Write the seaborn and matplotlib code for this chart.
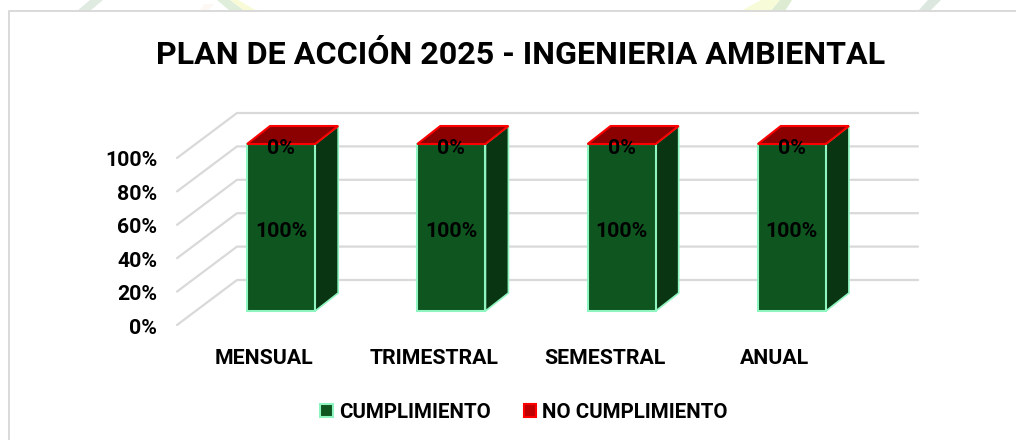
#!/usr/bin/env python3

# Import libraries
import pandas as pd
import matplotlib.pyplot as plt
import matplotlib.transforms as mtrans
from matplotlib.lines import Line2D
from matplotlib.patches import Polygon, Rectangle
import seaborn as sns

# Data
categories = ["MENSUAL", "TRIMESTRAL", "SEMESTRAL", "ANUAL"]
cumplimiento = [100, 100, 100, 100]
no_cumplimiento = [0, 0, 0, 0]
y_ticks = [0, 20, 40, 60, 80, 100]
y_labels = ["0%", "20%", "40%", "60%", "80%", "100%"]
title = "PLAN DE ACCIÓN 2025 - INGENIERIA AMBIENTAL"
series_names = ["CUMPLIMIENTO", "NO CUMPLIMIENTO"]

# Colours
GREEN = "#0e5520"
GREEN_SIDE = "#0a3512"
GREEN_EDGE = "#8ff5c0"
RED = "#c00000"
RED_TOP = "#8b0000"
RED_EDGE = "#ff0000"
GRID = "#d9d9d9"

W, H = 1016, 440
FS = 15.3


def px_box(x0, y0, x1, y1):
    ''' Figure fractions from pixel box (y from top). '''
    return [x0 / W, 1 - y1 / H, (x1 - x0) / W, (y1 - y0) / H]


def stripe(fig, pts, color):
    ''' Faint piece of the page background above the chart frame. '''
    pts = [(x / W, 1 - y / H) for x, y in pts]
    fig.add_artist(Polygon(pts, closed=True, fc=color, ec="none", transform=fig.transFigure))


sns.set_theme(style="white")
plt.rcParams["font.family"] = ["Roboto", "Liberation Sans", "DejaVu Sans"]
plt.rcParams["font.weight"] = "bold"
plt.rcParams["text.color"] = "black"
plt.rcParams["xtick.labelcolor"] = "black"
plt.rcParams["ytick.labelcolor"] = "black"

fig = plt.figure(figsize=(W / 100, H / 100), dpi=100, facecolor="white")

# background stripes showing above the frame
stripe(fig, [(77, 11), (90, 11), (103, 0), (90, 0)], "#dfeae0")
stripe(fig, [(200, 11), (208, 11), (214, 4), (204, 4)], "#fef8f5")
stripe(fig, [(217, 0), (230, 0), (245, 11), (230, 11)], "#dfeddb")
stripe(fig, [(230, 0), (238, 0), (257, 11), (245, 11)], "#f8fbd5")
stripe(fig, [(741, 11), (771, 11), (780, 0), (761, 0)], "#f7fbd8")
stripe(fig, [(771, 11), (785, 11), (792, 0), (780, 0)], "#dcebd2")
stripe(fig, [(918, 11), (930, 11), (941, 0), (928, 0)], "#dce8df")

# frame around the chart
fig.add_artist(Line2D([8.5 / W, 8.5 / W, 1], [0, 1 - 11.5 / H, 1 - 11.5 / H],
                      color="#d9d9d9", lw=1.4, transform=fig.transFigure))

# the axes is the front plane of the bars
ax = fig.add_axes(px_box(196, 144, 877, 311))
df = pd.DataFrame({"cat": categories, "val": cumplimiento})
sns.barplot(data=df, x="cat", y="val", ax=ax, width=0.4, color=GREEN,
            saturation=1, edgecolor=GREEN_EDGE, linewidth=1.5, zorder=5)
ax.set_ylim(0, 100)
ax.set_xlim(-0.5, 3.5)
ax.set_xlabel("")
ax.set_ylabel("")
sns.despine(ax=ax, left=True, bottom=True, top=True, right=True)
ax.patch.set_alpha(0)

# pixel offsets for the fake depth
to_x = 1 / (681 / 4)
to_y = 100 / 167
DEPTH = (23, 18)
BACK = (41, 31)
FRONT = (-19, -14)


def shift(x, y, off):
    return x + off[0] * to_x, y + off[1] * to_y


# grid on the back wall and floor/side wall diagonals
for t in y_ticks:
    x0, y0 = shift(-0.5, t, FRONT)
    x1, y1 = shift(-0.5, t, BACK)
    x2, y2 = shift(3.5, t, BACK)
    ax.plot([x0, x1, x2], [y0, y1, y2], color=GRID, lw=1.6, clip_on=False, zorder=1)

# bar sides and tops
for bar in ax.patches:
    x0, x1 = bar.get_x(), bar.get_x() + bar.get_width()
    h = bar.get_height()
    side = [(x1, 0), shift(x1, 0, DEPTH), shift(x1, h, DEPTH), (x1, h)]
    top = [(x0, h), (x1, h), shift(x1, h, DEPTH), shift(x0, h, DEPTH)]
    ax.add_patch(Polygon(side, closed=True, fc=GREEN_SIDE, ec=GREEN_EDGE, lw=1.2,
                         clip_on=False, zorder=4))
    ax.add_patch(Polygon(top, closed=True, fc=RED_TOP, ec=RED_EDGE, lw=1.5,
                         clip_on=False, zorder=6))
    bar.set_clip_on(False)

# value labels
for i, (a, b) in enumerate(zip(cumplimiento, no_cumplimiento)):
    ax.annotate("{}%".format(a), (i, a / 2), xytext=(0, -4), textcoords="offset pixels",
                ha="center", va="center", fontsize=FS, color="black", zorder=8,
                annotation_clip=False)
    ax.annotate("{}%".format(b), (i, a), xytext=(0, -4), textcoords="offset pixels",
                ha="center", va="center", fontsize=FS, color="black", zorder=8,
                annotation_clip=False)

# axis ticks
ax.set_yticks(y_ticks, y_labels)
ax.tick_params(axis="y", length=0, labelsize=FS, pad=28)
ax.tick_params(axis="x", length=0, labelsize=FS, pad=27)
off = mtrans.ScaledTranslation(0, -15 / 100, fig.dpi_scale_trans)
for lab in ax.get_yticklabels():
    lab.set_transform(lab.get_transform() + off)
off_x = mtrans.ScaledTranslation(-17 / 100, 0, fig.dpi_scale_trans)
for lab in ax.get_xticklabels():
    lab.set_transform(lab.get_transform() + off_x)

fig.text(520.5 / W, 1 - 55 / H, title, ha="center", va="center", fontsize=23.2, color="black")

# legend
handles = [
    Rectangle((0, 0), 1, 1, fc=GREEN, ec=GREEN_EDGE, lw=1.5),
    Rectangle((0, 0), 1, 1, fc=RED, ec=RED_EDGE, lw=1.5),
]
fig.legend(handles, series_names, loc="center", bbox_to_anchor=(524 / W, 1 - 412 / H),
           ncol=2, frameon=False, fontsize=14.8, handlelength=0.62, handleheight=0.62,
           handletextpad=0.3, columnspacing=1.6, labelcolor="black")

fig.savefig("out.png", dpi=100)
